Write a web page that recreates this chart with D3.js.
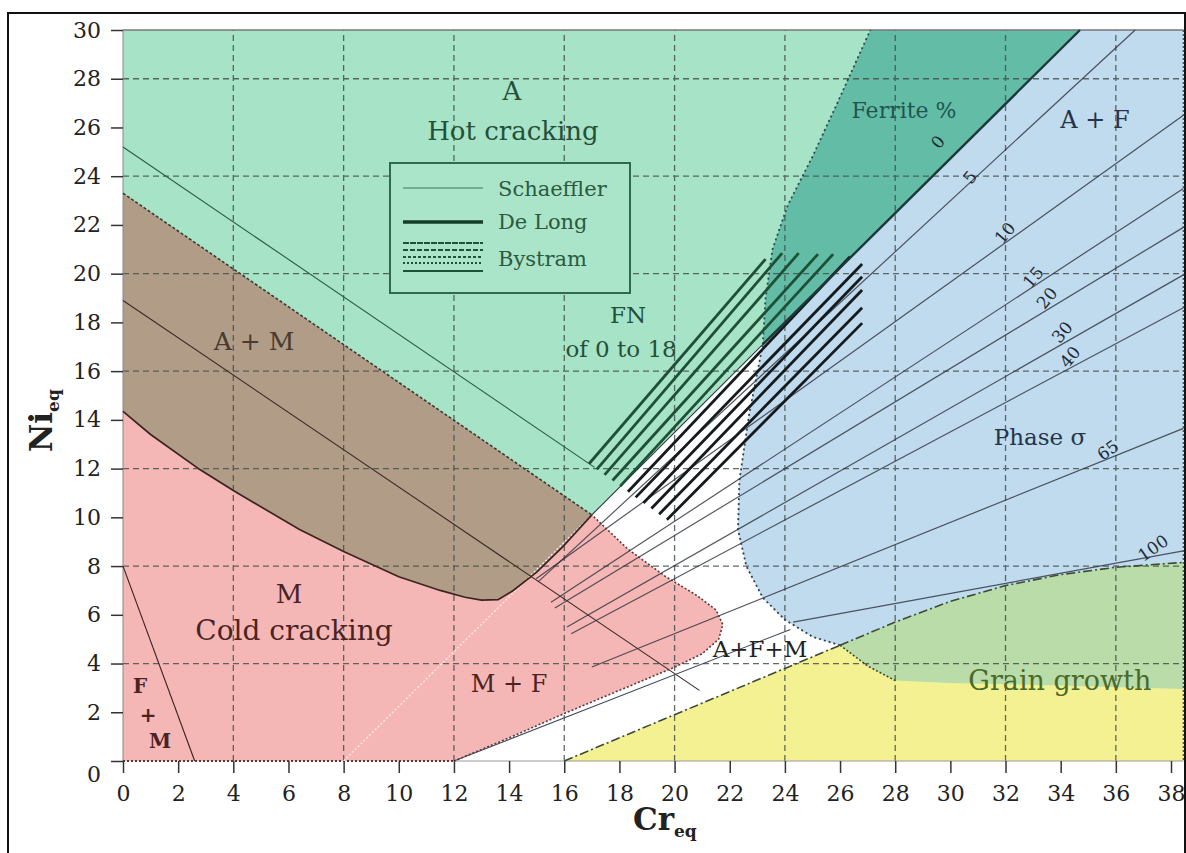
<!DOCTYPE html>
<html>
<head>
<meta charset="utf-8">
<script src="https://cdn.jsdelivr.net/npm/d3@7/dist/d3.min.js"></script>
<style>
  body { margin: 0; background: #fff; }
  svg { display: block; }
</style>
</head>
<body>
<div id="chart"></div>
<script>
// ticks and grid
const xTickValues = d3.range(0, 39, 2);
const yTickValues = d3.range(0, 31, 2);
const gridCr = [4, 8, 12, 16, 20, 24, 28, 32, 36];
const gridNi = [4, 8, 12, 16, 20, 24, 28];
const crMax = 38.45;
const niMax = 30;

// phase boundaries as [Cr_eq, Ni_eq]
const austMartTop = [[0, 23.3], [17.0, 10.1]];
const martTop = [[0, 14.35], [1, 13.4], [2.8, 11.95], [4, 11.1], [6.4, 9.5], [8, 8.6], [10, 7.56], [11.5, 7.0],
  [12.4, 6.72], [13.0, 6.6], [13.6, 6.62], [14.15, 7.0], [15.0, 7.75], [15.95, 8.8], [17.0, 10.1]];
const martFerriteEdge = [[12, 0], [14, 0.95], [16, 1.95], [18, 2.9], [20, 3.85], [21.0, 4.4], [21.6, 5.0],
  [21.75, 5.6], [21.5, 6.2], [20.8, 6.8], [19.7, 7.55], [18.3, 8.7], [17.0, 10.1]];
const ferriteEdge = [[23.2, 17.1], [23.3, 19], [23.55, 21], [24.1, 22.8], [25.0, 24.8], [25.9, 27], [26.5, 28.5], [27.1, 30]];
const sigmaEdge = [[26, 4.75], [25.0, 5.1], [24.0, 5.8], [23.2, 6.7], [22.6, 8.0], [22.3, 9.5], [22.35, 11.5], [22.7, 14.2], [23.2, 17.1]];
const grainTop = [[26, 4.75], [28, 5.7], [30, 6.55], [32, 7.2], [34, 7.65], [36, 7.95], [38.45, 8.15]];
const grainBottom = [[26, 4.75], [27, 3.9], [28, 3.3], [30, 3.2], [34, 3.1], [38.45, 2.95]];
const grainLimit = [[16, 0], [26, 4.75]];
const zeroFerrite = [[8, 0], [17.0, 10.1], [23.2, 17.1], [34.7, 30]];

// thin Schaeffler lines
const schaefflerA = [[0, 25.2], [17.1, 12.05]];
const schaefflerM = [[0, 18.9], [20.9, 2.9]];
const schaefflerFM = [[0, 8], [2.6, 0]];
const schaefflerLow = [[12, 0], [24.2, 5.4]];

// iso-ferrite lines (%)
const ferriteNames = ["5", "10", "15", "20", "30", "40", "65", "100"];
const ferriteFrom = [[15.05, 7.35], [14.98, 7.48], [15.52, 6.52], [15.66, 6.28], [16.1, 5.5], [16.25, 5.22], [17.0, 3.86], [24.3, 5.7]];
const ferriteTo = [[36.7, 30], [38.45, 26.5], [38.45, 23.5], [38.45, 21.9], [38.45, 19.95], [38.45, 18.6], [38.45, 13.65], [38.45, 8.62]];
const ferriteLabels = ["0", "5", "10", "15", "20", "30", "40", "65", "100"];
const ferriteLabelAt = [[29.55, 25.4], [30.71, 23.96], [31.98, 21.67], [33.0, 19.86], [33.5, 19.0], [34.05, 17.6], [34.34, 16.58], [35.71, 12.76], [37.35, 8.74]];

// De Long / Bystram hatch
const hatchFrom = [[16.9, 12.2], [17.18, 11.97], [17.46, 11.74], [17.75, 11.51], [18.03, 11.28], [18.31, 11.05],
  [18.59, 10.82], [18.87, 10.59], [19.16, 10.36], [19.44, 10.13], [19.72, 9.9]];
const hatchTo = [[23.3, 20.6], [23.9, 20.84], [24.5, 20.84], [25.2, 20.8], [25.75, 20.8], [26.36, 20.7],
  [26.8, 20.4], [26.8, 19.87], [26.8, 19.33], [26.8, 18.6], [26.8, 17.97]];

// region names
const regionText = ["A", "Hot cracking", "A + M", "M", "Cold cracking", "F", "+", "M", "M + F", "FN", "of 0 to 18",
  "Ferrite %", "A + F", "Phase σ", "A+F+M", "Grain growth"];
const regionAt = [[14.1, 27.12], [14.14, 25.48], [4.75, 16.87], [6.02, 6.48], [6.2, 4.97], [0.62, 2.79], [0.91, 1.6],
  [1.34, 0.53], [14.0, 2.83], [18.31, 17.97], [18.06, 16.58], [28.32, 26.38], [35.24, 25.97], [33.25, 12.97], [23.1, 4.27], [33.97, 2.91]];

const legendNames = ["Schaeffler", "De Long", "Bystram"];

const W = 1186, H = 853;
const serif = "'DejaVu Serif', 'Liberation Serif', serif";

const svg = d3.select("#chart").append("svg")
  .attr("width", W)
  .attr("height", H);

const x = d3.scaleLinear().domain([0, 38]).range([123, 1171]);
const y = d3.scaleLinear().domain([0, 30]).range([761, 30]);

const line = d3.line().x(d => x(d[0])).y(d => y(d[1]));
const shape = pts => line(pts) + "Z";
const rev = a => a.slice().reverse();

// outer frame
svg.append("path")
  .attr("d", `M8,${H}V13H1185V${H}`)
  .attr("fill", "none")
  .attr("stroke", "#111")
  .attr("stroke-width", 2);

// regions
const regions = svg.append("g");
regions.append("rect")
  .attr("x", x(0)).attr("y", y(niMax))
  .attr("width", x(crMax) - x(0)).attr("height", y(0) - y(niMax))
  .attr("fill", "#a7e3c6");

regions.append("path")
  .attr("d", shape([[12, 0], ...grainLimit, ...sigmaEdge, zeroFerrite[1]]))
  .attr("fill", "#ffffff");

regions.append("path")
  .attr("d", shape([...ferriteEdge, [34.7, 30]]))
  .attr("fill", "#63bca6");

regions.append("path")
  .attr("d", shape([[23.2, 17.1], [34.7, 30], [crMax, 30], ...rev(grainTop), ...sigmaEdge]))
  .attr("fill", "#c0dbee");

regions.append("path")
  .attr("d", shape([...grainTop, ...rev(grainBottom)]))
  .attr("fill", "#b9dca8");

regions.append("path")
  .attr("d", shape([...grainLimit, ...grainBottom.slice(1), [crMax, 0]]))
  .attr("fill", "#f4f193");

regions.append("path")
  .attr("d", shape([...austMartTop, ...rev(martTop)]))
  .attr("fill", "#b19d87");

regions.append("path")
  .attr("d", shape([[0, 0], ...martFerriteEdge, ...rev(martTop)]))
  .attr("fill", "#f5b7b6");

// grid
const grid = svg.append("g")
  .attr("stroke", "#46524d")
  .attr("stroke-width", 1.3)
  .attr("stroke-dasharray", "6,4")
  .attr("opacity", 0.85);
grid.selectAll(".gv").data(gridCr).join("line")
  .attr("x1", d => x(d)).attr("x2", d => x(d))
  .attr("y1", y(0)).attr("y2", y(niMax));
grid.selectAll(".gh").data(gridNi).join("line")
  .attr("y1", d => y(d)).attr("y2", d => y(d))
  .attr("x1", x(0)).attr("x2", x(crMax));

// plot borders
svg.append("line").attr("x1", x(0)).attr("x2", x(crMax)).attr("y1", y(30)).attr("y2", y(30))
  .attr("stroke", "#777").attr("stroke-width", 1.5);
svg.append("line").attr("x1", x(crMax)).attr("x2", x(crMax)).attr("y1", y(30)).attr("y2", y(0))
  .attr("stroke", "#556").attr("stroke-width", 1.5).attr("stroke-dasharray", "2,2");
svg.append("line").attr("x1", x(0)).attr("x2", x(0)).attr("y1", y(30)).attr("y2", y(0))
  .attr("stroke", "#888").attr("stroke-width", 1);
svg.append("line").attr("x1", x(12)).attr("x2", x(crMax)).attr("y1", y(0)).attr("y2", y(0))
  .attr("stroke", "#999").attr("stroke-width", 1.2);
svg.append("line").attr("x1", x(0)).attr("x2", x(12)).attr("y1", y(0)).attr("y2", y(0))
  .attr("stroke", "#5a3a3a").attr("stroke-width", 2).attr("stroke-dasharray", "2,2");

// thin schaeffler lines
const thin = svg.append("g").attr("fill", "none").attr("stroke-width", 1.1);
thin.append("path").attr("d", line(schaefflerA)).attr("stroke", "#2a5a45");
thin.append("path").attr("d", line(schaefflerM)).attr("stroke", "#3a2a25");
thin.append("path").attr("d", line(schaefflerFM)).attr("stroke", "#3a2020");
thin.append("path").attr("d", line(schaefflerLow)).attr("stroke", "#404a5a");

// iso-ferrite lines
svg.append("g")
  .selectAll("path")
  .data(ferriteNames)
  .join("path")
  .attr("d", (d, i) => line([ferriteFrom[i], ferriteTo[i]]))
  .attr("fill", "none")
  .attr("stroke", "#2a2f3a")
  .attr("stroke-opacity", 0.8)
  .attr("stroke-width", 1.2);

// zero ferrite line
svg.append("path").attr("d", line(zeroFerrite.slice(0, 2)))
  .attr("fill", "none").attr("stroke", "#fbe8e8").attr("stroke-width", 1.4).attr("stroke-dasharray", "2,2");
svg.append("path").attr("d", line(zeroFerrite.slice(1, 3)))
  .attr("fill", "none").attr("stroke", "#2a3a3a").attr("stroke-width", 1.1);

// boundaries
const edge = svg.append("g").attr("fill", "none");
edge.append("path").attr("d", line(austMartTop)).attr("stroke", "#3d3a30").attr("stroke-width", 1.6).attr("stroke-dasharray", "3,2");
edge.append("path").attr("d", line(martTop)).attr("stroke", "#3b2420").attr("stroke-width", 1.7);
edge.append("path").attr("d", line(martFerriteEdge)).attr("stroke", "#5a3a3a").attr("stroke-width", 1.6).attr("stroke-dasharray", "2,2");
edge.append("path").attr("d", line(ferriteEdge)).attr("stroke", "#2d4a48").attr("stroke-width", 1.8).attr("stroke-dasharray", "2,3");
edge.append("path").attr("d", line(sigmaEdge)).attr("stroke", "#2d3f55").attr("stroke-width", 1.8).attr("stroke-dasharray", "2,3");
edge.append("path").attr("d", line(grainTop)).attr("stroke", "#3d4a35").attr("stroke-width", 1.6).attr("stroke-dasharray", "9,3,2,3");
edge.append("path").attr("d", line(grainLimit)).attr("stroke", "#3d4a35").attr("stroke-width", 1.6).attr("stroke-dasharray", "9,3,2,3");
edge.append("path").attr("d", line(grainBottom.slice(0, 3))).attr("stroke", "#3d4a35").attr("stroke-width", 1.6).attr("stroke-dasharray", "2,2");

// hatch
svg.append("g")
  .selectAll("path")
  .data(hatchFrom)
  .join("path")
  .attr("d", (d, i) => line([d, hatchTo[i]]))
  .attr("fill", "none")
  .attr("stroke", (d, i) => i < 5 ? "#1e4f37" : "#151b1d")
  .attr("stroke-width", 2.8);

svg.append("path").attr("d", line(zeroFerrite.slice(2)))
  .attr("fill", "none").attr("stroke", "#1d3838").attr("stroke-width", 2.4);

// ferrite numbers
svg.append("g")
  .selectAll("text")
  .data(ferriteLabels)
  .join("text")
  .attr("transform", (d, i) => `translate(${x(ferriteLabelAt[i][0])},${y(ferriteLabelAt[i][1])}) rotate(${i > 6 ? -35 : -50})`)
  .attr("text-anchor", "middle")
  .attr("dy", "0.35em")
  .attr("font-family", serif)
  .attr("font-size", 17)
  .attr("fill", "#222a35")
  .text(d => d);

// region labels
const labelSize = {"A": 26, "Hot cracking": 26, "A + M": 25, "Cold cracking": 28, "M + F": 24, "FN": 23,
  "of 0 to 18": 23, "Ferrite %": 22, "A + F": 24, "Phase σ": 23, "A+F+M": 23, "Grain growth": 27};
const labelColor = t => {
  if (["A", "Hot cracking", "FN", "of 0 to 18"].includes(t)) return "#24503a";
  if (t === "A + M") return "#4a3b30";
  if (t === "Ferrite %") return "#1f5550";
  if (["A + F", "Phase σ"].includes(t)) return "#26344a";
  if (t === "Grain growth") return "#4a6a2a";
  if (t === "A+F+M") return "#222";
  return "#4a2424";
};
svg.append("g")
  .selectAll("text")
  .data(regionText)
  .join("text")
  .attr("x", (d, i) => x(regionAt[i][0]))
  .attr("y", (d, i) => y(regionAt[i][1]))
  .attr("text-anchor", "middle")
  .attr("font-family", serif)
  .attr("font-size", (d, i) => i >= 5 && i <= 7 ? 20 : (i === 3 ? 26 : labelSize[d]))
  .attr("font-weight", (d, i) => i >= 5 && i <= 7 ? "bold" : "normal")
  .attr("fill", d => labelColor(d))
  .text(d => d);

// legend
const lg = svg.append("g");
lg.append("rect").attr("x", 390).attr("y", 163).attr("width", 240).attr("height", 130)
  .attr("fill", "#aae5ca").attr("stroke", "#2f6a4c").attr("stroke-width", 2);
lg.append("line").attr("x1", 403).attr("x2", 483).attr("y1", 188).attr("y2", 188)
  .attr("stroke", "#3d7a5a").attr("stroke-width", 1.2);
lg.append("line").attr("x1", 403).attr("x2", 483).attr("y1", 222).attr("y2", 222)
  .attr("stroke", "#143d2a").attr("stroke-width", 3.5);
[[243, "6,1"], [250, "5,2"], [257, "3,2"], [263, "2,2"], [271, null]].forEach(([yy, dash]) => {
  lg.append("line").attr("x1", 403).attr("x2", 483).attr("y1", yy).attr("y2", yy)
    .attr("stroke", "#1f5038").attr("stroke-width", 1.8)
    .attr("stroke-dasharray", dash);
});
lg.selectAll("text").data(legendNames).join("text")
  .attr("x", 498)
  .attr("y", (d, i) => [196, 229, 266][i])
  .attr("font-family", serif)
  .attr("font-size", 21)
  .attr("fill", "#2b5a40")
  .text(d => d);

// axes
const xAxis = svg.append("g")
  .attr("transform", `translate(0,${y(0)})`)
  .call(d3.axisBottom(x).tickValues(xTickValues).tickSize(12).tickPadding(12));
const yAxis = svg.append("g")
  .attr("transform", `translate(${x(0)},0)`)
  .call(d3.axisLeft(y).tickValues(yTickValues).tickSize(12).tickPadding(10));
[xAxis, yAxis].forEach(g => {
  g.select(".domain").remove();
  g.selectAll(".tick line").attr("stroke", "#333").attr("stroke-width", 1.5);
  g.selectAll(".tick text")
    .attr("font-family", serif)
    .attr("font-size", 22)
    .attr("fill", "#222");
});
// the zero on the Ni axis sits a little low in the original
yAxis.selectAll(".tick").filter(d => d === 0).select("text").attr("dy", "0.95em");

// axis titles
const xt = svg.append("text")
  .attr("x", 633).attr("y", 830)
  .attr("font-family", serif).attr("font-weight", "bold")
  .attr("font-size", 31).attr("fill", "#222");
xt.append("tspan").text("Cr");
xt.append("tspan").attr("dy", 7).attr("font-size", 17).text("eq");

const yt = svg.append("text")
  .attr("transform", "translate(52,452) rotate(-90)")
  .attr("font-family", serif).attr("font-weight", "bold")
  .attr("font-size", 31).attr("fill", "#222");
yt.append("tspan").text("Ni");
yt.append("tspan").attr("dy", 7).attr("font-size", 17).text("eq");
</script>
</body>
</html>
